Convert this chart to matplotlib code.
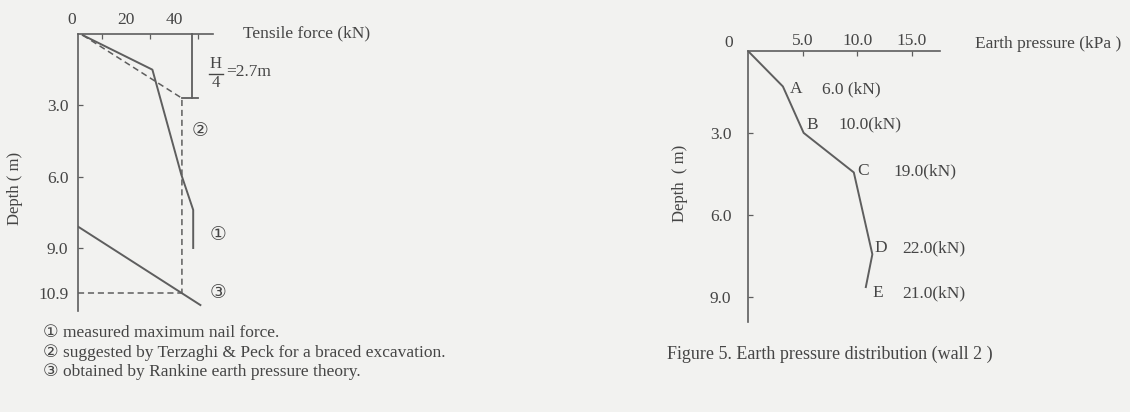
import matplotlib
matplotlib.use("Agg")
import matplotlib.pyplot as plt
from matplotlib.ticker import FixedLocator

# ---------------- data ----------------
# Left chart: tensile force (kN) vs depth (m)
measured_force = [2, 31, 43, 48, 48]
measured_depth = [0.05, 1.5, 5.9, 7.4, 9.0]

terzaghi_force = [2, 43.3, 43.3]
terzaghi_depth = [0.05, 2.7, 10.9]

rankine_force = [0, 51]
rankine_depth = [8.1, 11.4]

left_xticks = [20, 40]
left_xticklabels = ["20", "40"]
left_xminor = [10, 20, 30, 40, 50]
left_yticks = [3.0, 6.0, 9.0, 10.9]
left_yticklabels = ["3.0", "6.0", "9.0", "10.9"]

# Right chart: earth pressure (kPa) vs depth (m)
ep_pressure = [0, 3.2, 5.1, 9.7, 11.4, 10.8]
ep_depth = [0, 1.3, 3.0, 4.45, 7.45, 8.65]
ep_names = ["", "A", "B", "C", "D", "E"]
ep_forces = ["", "6.0 (kN)", "10.0(kN)", "19.0(kN)", "22.0(kN)", "21.0(kN)"]

right_xticks = [5.0, 10.0, 15.0]
right_xticklabels = ["5.0", "10.0", "15.0"]
right_yticks = [3.0, 6.0, 9.0]
right_yticklabels = ["3.0", "6.0", "9.0"]

legend_lines = ["\u2460 measured maximum nail force.",
                "\u2461 suggested by Terzaghi & Peck for a braced excavation.",
                "\u2462 obtained by Rankine earth pressure theory."]
caption = "Figure 5. Earth pressure distribution (wall 2 )"

# ---------------- style ----------------
W, H = 1130, 412
BG = "#f2f2f0"
TXT = "#454545"
LN = "#5e5e5e"
SERIF = ["Liberation Serif", "DejaVu Serif"]
CIRC = ["Liberation Serif", "DejaVu Sans"]
FS = 12.5

plt.rcParams["font.family"] = SERIF

fig = plt.figure(figsize=(W / 100, H / 100), dpi=100, facecolor=BG)


def rect(l, t, r, b):
    return [l / W, 1 - b / H, (r - l) / W, (b - t) / H]


def ftxt(x, y, s, **kw):
    kw.setdefault("color", TXT)
    kw.setdefault("fontsize", FS)
    kw.setdefault("va", "center")
    fig.text(x / W, 1 - y / H, s, **kw)


def style_axes(ax):
    ax.set_facecolor("none")
    for sp in ("right", "bottom"):
        ax.spines[sp].set_visible(False)
    for sp in ("left", "top"):
        ax.spines[sp].set_color(LN)
        ax.spines[sp].set_linewidth(1.2)
    ax.xaxis.tick_top()
    ax.tick_params(axis="both", colors=LN, labelcolor=TXT, labelsize=FS,
                   direction="in", length=3.5, width=0.9)
    ax.tick_params(axis="x", which="minor", direction="in", length=3.5,
                   width=0.9, colors=LN)


# ---------------- left chart ----------------
axL = fig.add_axes(rect(78, 34, 213, 311))
style_axes(axL)
axL.set_xlim(0, 56.25)
axL.set_ylim(11.65, 0)
axL.set_xticks(left_xticks)
axL.set_xticklabels(left_xticklabels)
axL.xaxis.set_minor_locator(FixedLocator(left_xminor))
axL.tick_params(axis="x", which="major", length=0, pad=4)
axL.set_yticks(left_yticks)
axL.set_yticklabels(left_yticklabels)
axL.tick_params(axis="y", pad=7)
axL.get_yticklines()[-2].set_visible(False)

axL.plot(measured_force, measured_depth, color=LN, lw=1.4)
axL.plot(terzaghi_force, terzaghi_depth, color=LN, lw=1.1, ls=(0, (4, 2.5)))
axL.plot([0, terzaghi_force[-1]], [terzaghi_depth[-1], terzaghi_depth[-1]],
         color=LN, lw=1.1, ls=(0, (4, 2.5)))
axL.plot(rankine_force, rankine_depth, color=LN, lw=1.4)
# H/4 bracket
axL.plot([47.5, 47.5], [0, terzaghi_depth[1]], color=LN, lw=1.3, clip_on=False)
axL.plot([terzaghi_force[1], 50], [terzaghi_depth[1], terzaghi_depth[1]],
         color=LN, lw=1.3, clip_on=False)

ftxt(72, 20, "0", ha="center")
ftxt(15, 188, "Depth ( m)", rotation=90, ha="center", fontsize=12)
ftxt(243, 33, "Tensile force (kN)")
ftxt(216, 64, "H", ha="center", fontsize=12)
fig.add_artist(plt.Line2D([209 / W, 223 / W], [1 - 73.5 / H, 1 - 73.5 / H],
                          color=TXT, lw=1.0))
ftxt(216, 83, "4", ha="center", fontsize=12)
ftxt(226, 72, "=2.7m")
ftxt(200, 131, "\u2461", ha="center", fontsize=13.5, family=CIRC)
ftxt(218, 236, "\u2460", ha="center", fontsize=13.5, family=CIRC)
ftxt(218, 294, "\u2462", ha="center", fontsize=13.5, family=CIRC)

for i, line in enumerate(legend_lines):
    ftxt(43, 333 + 19.5 * i, line, fontsize=12.5, family=CIRC)

# ---------------- right chart ----------------
axR = fig.add_axes(rect(748, 51, 940, 322))
style_axes(axR)
axR.set_xlim(0, 17.6)
axR.set_ylim(9.93, 0)
axR.set_xticks(right_xticks)
axR.set_xticklabels(right_xticklabels)
axR.tick_params(axis="x", pad=1.5)
axR.set_yticks(right_yticks)
axR.set_yticklabels(right_yticklabels)
axR.tick_params(axis="y", pad=12)
axR.plot(ep_pressure, ep_depth, color=LN, lw=1.4)
ftxt(680, 183, "Depth  ( m)", rotation=90, ha="center", fontsize=12)
ftxt(729, 43, "0", ha="center")

name_off = [(0, 0), (13, -3), (9, 8), (9, 1), (8, 6), (12, -6)]
force_x = [0, 822, 838, 893, 902, 902]
for i in range(1, len(ep_pressure)):
    axR.annotate(ep_names[i], (ep_pressure[i], ep_depth[i]),
                 xytext=name_off[i], textcoords="offset pixels",
                 ha="center", va="center", color=TXT, fontsize=FS)
    xd, yd = axR.transData.transform((ep_pressure[i], ep_depth[i]))
    ftxt(force_x[i], H - yd - name_off[i][1], ep_forces[i])

ftxt(975, 44, "Earth pressure (kPa )")
ftxt(667, 354, caption, fontsize=13)

fig.savefig("out.png", dpi=100, facecolor=BG)
